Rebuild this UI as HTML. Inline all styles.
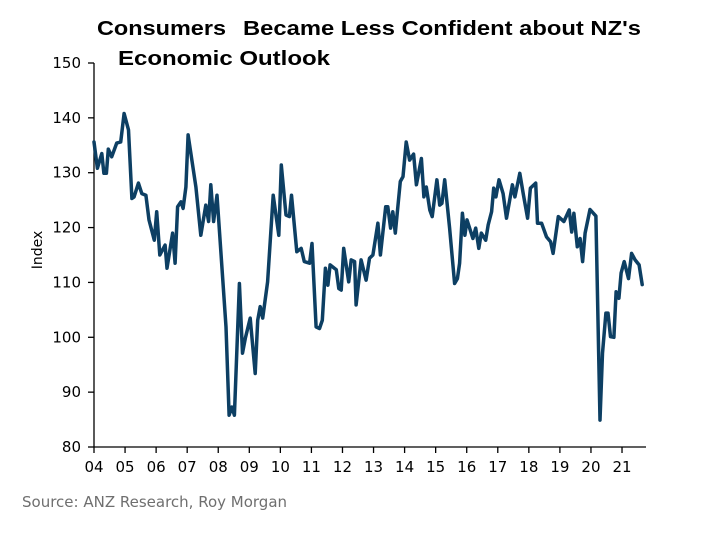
<!DOCTYPE html>
<html><head><meta charset="utf-8"><style>
body{margin:0;background:#fff;}
svg text{font-family:"DejaVu Sans","Liberation Sans",sans-serif;}
</style></head><body>
<svg width="709" height="535" viewBox="0 0 709 535">
<text x="97" y="35" font-size="20" font-weight="bold" fill="#000" textLength="129" lengthAdjust="spacingAndGlyphs" style="font-family:'Liberation Sans',sans-serif">Consumers</text>
<text x="243" y="35" font-size="20" font-weight="bold" fill="#000" textLength="398" lengthAdjust="spacingAndGlyphs" style="font-family:'Liberation Sans',sans-serif">Became Less Confident about NZ's</text>
<text x="118" y="65" font-size="20" font-weight="bold" fill="#000" textLength="212" lengthAdjust="spacingAndGlyphs" style="font-family:'Liberation Sans',sans-serif">Economic Outlook</text>
<g id="axes"></g>
<text transform="translate(42,250) rotate(-90)" text-anchor="middle" font-size="14" fill="#000">Index</text>
<path id="line" fill="none" stroke="#0d3f63" stroke-width="3.5" stroke-linejoin="round" stroke-linecap="round"/>
<text x="22" y="507" font-size="15" fill="#6f6f6f">Source: ANZ Research, Roy Morgan</text>
</svg>
<script>
const yTicks=[80,90,100,110,120,130,140,150];
const xLabels=["04","05","06","07","08","09","10","11","12","13","14","15","16","17","18","19","20","21"];
const dates=[2004.00,2004.11,2004.25,2004.32,2004.40,2004.46,2004.57,2004.73,2004.86,2004.97,2005.11,2005.22,2005.29,2005.43,2005.54,2005.67,2005.77,2005.94,2006.02,2006.12,2006.29,2006.35,2006.53,2006.61,2006.69,2006.80,2006.87,2006.96,2007.03,2007.28,2007.44,2007.60,2007.69,2007.76,2007.85,2007.96,2008.25,2008.35,2008.44,2008.52,2008.68,2008.78,2008.87,2009.03,2009.19,2009.27,2009.35,2009.43,2009.59,2009.77,2009.95,2010.03,2010.18,2010.29,2010.36,2010.53,2010.67,2010.77,2010.94,2011.02,2011.15,2011.26,2011.35,2011.45,2011.53,2011.60,2011.80,2011.88,2011.96,2012.04,2012.20,2012.28,2012.39,2012.44,2012.60,2012.76,2012.87,2012.98,2013.14,2013.22,2013.39,2013.46,2013.55,2013.62,2013.70,2013.86,2013.95,2014.05,2014.16,2014.29,2014.38,2014.54,2014.62,2014.70,2014.81,2014.89,2015.04,2015.13,2015.20,2015.29,2015.45,2015.61,2015.70,2015.77,2015.86,2015.94,2016.01,2016.20,2016.29,2016.39,2016.47,2016.61,2016.69,2016.80,2016.87,2016.94,2017.04,2017.17,2017.28,2017.47,2017.55,2017.71,2017.82,2017.96,2018.05,2018.22,2018.28,2018.41,2018.57,2018.70,2018.78,2018.95,2019.13,2019.30,2019.38,2019.45,2019.56,2019.65,2019.73,2019.81,2019.97,2020.16,2020.29,2020.37,2020.48,2020.55,2020.63,2020.74,2020.81,2020.90,2020.97,2021.07,2021.21,2021.31,2021.42,2021.55,2021.65];
const values=[135.6,130.8,133.5,129.9,129.9,134.3,132.9,135.4,135.6,140.8,137.8,125.3,125.6,128.1,126.2,125.9,121.4,117.7,122.9,115.0,116.8,112.6,119.0,113.5,123.8,124.7,123.5,127.4,136.9,127.4,118.6,124.1,121.1,127.8,121.1,125.9,101.9,85.8,87.3,85.8,109.8,97.1,99.8,103.5,93.4,103.1,105.6,103.5,110.1,125.9,118.6,131.4,122.3,122.0,125.9,115.6,116.2,113.8,113.5,117.1,101.9,101.6,103.1,112.6,109.5,113.2,112.3,108.9,108.6,116.2,110.1,114.1,113.8,105.9,114.1,110.4,114.4,115.0,120.8,115.0,123.8,123.8,119.9,122.9,119.0,128.4,129.3,135.6,132.3,133.4,127.8,132.6,125.6,127.4,123.2,122.0,128.7,124.1,124.4,128.7,119.9,109.8,110.7,113.5,122.6,118.6,121.4,118.0,119.9,116.2,119.0,117.7,120.5,122.9,127.2,125.6,128.7,126.2,121.7,127.8,125.6,129.9,126.2,121.7,127.2,128.1,120.8,120.8,118.3,117.4,115.3,122.0,121.1,123.2,119.2,122.6,116.5,118.0,113.8,119.0,123.3,122.1,84.9,97.1,104.4,104.4,100.1,100.0,108.3,107.1,111.7,113.8,110.7,115.3,114.1,113.2,109.6];
const X0=94,YW=31.06,YB=447,YT=63;
function xs(d){return X0+(d-2004)*YW;}
function ys(v){return YB-(v-80)/(150-80)*(YB-YT);}
const NS="http://www.w3.org/2000/svg";
const ax=document.getElementById('axes');
function mk(tag,attrs){const e=document.createElementNS(NS,tag);for(const k in attrs)e.setAttribute(k,attrs[k]);ax.appendChild(e);return e;}
let l=mk('line',{x1:X0,y1:YT,x2:X0,y2:YB,stroke:'#000','stroke-width':1.3});


l=mk('line',{x1:X0,y1:YB,x2:646,y2:YB,stroke:'#000','stroke-width':1.3});


yTicks.forEach(v=>{
  const t=mk('line',{x1:X0-6,x2:X0,y1:ys(v),y2:ys(v),stroke:'#000','stroke-width':1.3});
  
  
  const tx=mk('text',{x:X0-13,y:ys(v)+5,'text-anchor':'end','font-size':15,fill:'#000'});
  tx.textContent=v;
  
  
});
xLabels.forEach((s,i)=>{
  const x=X0+i*YW;
  const t=mk('line',{x1:x,x2:x,y1:YB,y2:YB+6,stroke:'#000','stroke-width':1.3});
  
  
  const tx=mk('text',{x:x,y:YB+25,'text-anchor':'middle','font-size':15,fill:'#000'});
  tx.textContent=s;
  
  
});
document.getElementById('line').setAttribute('d',dates.map((d,i)=>(i?'L':'M')+xs(d).toFixed(1)+','+ys(values[i]).toFixed(1)).join(''));
</script>
</body></html>
